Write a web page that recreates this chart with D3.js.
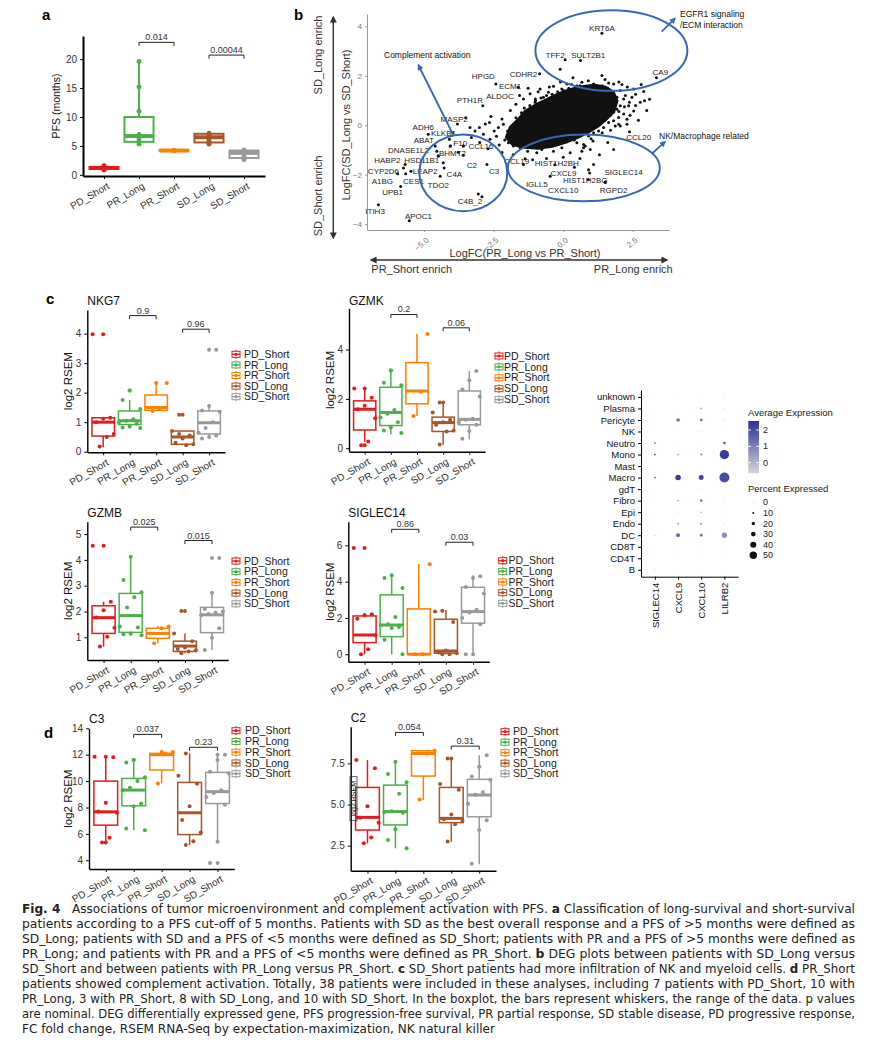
<!DOCTYPE html>
<html>
<head>
<meta charset="utf-8">
<script src="https://cdn.jsdelivr.net/npm/d3@7"></script>
<style>
body { margin: 0; background: #fff; }
svg { display: block; font-family: "Liberation Sans", Arial, sans-serif; }
.cap text { white-space: pre; }
</style>
</head>
<body>
<svg width="874" height="1056"></svg>
<script>
// groepen en kleuren
var groups = ["PD_Short", "PR_Long", "PR_Short", "SD_Long", "SD_Short"];
var groupColors = ["#e41a1c", "#4daf4a", "#ff7f00", "#a65628", "#999999"];

// a: PFS, stats = [min, q1, mediaan, q3, max]
var pfsStats = [[0.8, 1.05, 1.2, 1.35, 1.6], [5.3, 5.7, 6.7, 10.0, 19.6], [4.15, 4.15, 4.2, 4.25, 4.25], [5.3, 5.6, 6.5, 7.1, 7.2], [2.6, 2.9, 3.8, 4.2, 4.3]];
var pfsPoints = [[0.8, 1.0, 1.1, 1.2, 1.2, 1.4, 1.6], [19.6, 15.2, 11.0, 7.0, 6.6, 6.5, 6.2, 5.8, 5.5, 5.3], [4.2, 4.2, 4.2], [7.2, 7.0, 6.8, 6.5, 6.1, 5.8, 5.4, 5.3], [4.3, 4.2, 4.0, 3.9, 3.8, 3.6, 3.2, 3.0, 2.8, 2.6]];
var pfsP = ["0.014", "0.00044"], pfsPY = [22.9, 20.7];

// c: NKG7, GZMK, GZMB, SIGLEC14
var nkg7Stats = [[0.15, 0.53, 1.0, 1.15, 1.15], [0.8, 0.92, 1.05, 1.38, 1.75], [1.38, 1.4, 1.5, 1.92, 2.3], [0.22, 0.25, 0.5, 0.7, 0.7], [0.45, 0.6, 0.98, 1.38, 1.55]];
var nkg7Points = [[3.98, 1.15, 1.12, 1.0, 0.6, 0.5, 0.18], [2.07, 1.75, 1.45, 1.1, 1.05, 1.0, 0.95, 0.85, 0.82, 0.8], [2.33, 1.45, 1.38], [1.25, 0.7, 0.55, 0.45, 0.3, 0.25, 0.22, 0.6], [3.45, 1.55, 1.4, 1.35, 1.0, 0.8, 0.65, 0.55, 0.5, 0.45]];
var nkg7P = ["0.9", "0.96"], nkg7PY = [4.61, 4.15];

var gzmkStats = [[0.27, 0.74, 1.58, 1.92, 2.4], [0.57, 0.92, 1.45, 2.47, 3.13], [1.31, 1.8, 2.32, 3.47, 4.63], [0.14, 0.68, 1.04, 1.26, 1.82], [0.36, 0.95, 1.17, 2.32, 3.13]];
var gzmkPoints = [[2.42, 2.05, 1.72, 1.58, 1.22, 0.27, 0.12], [3.15, 2.65, 2.55, 1.55, 1.4, 1.25, 1.05, 0.85, 0.72, 0.62], [4.63, 2.3, 1.31], [1.85, 1.45, 1.15, 1.05, 0.95, 0.72, 0.68, 0.15], [3.13, 2.75, 2.38, 2.1, 1.2, 1.15, 1.05, 0.95, 0.7, 0.38]];
var gzmkP = ["0.2", "0.06"], gzmkPY = [5.42, 4.88];

var gzmbStats = [[0.64, 1.15, 1.76, 2.22, 2.38], [1.06, 1.19, 1.84, 2.7, 4.12], [0.77, 0.96, 1.15, 1.35, 1.44], [0.38, 0.45, 0.66, 0.85, 1.15], [0.51, 1.18, 1.87, 2.16, 2.73]];
var gzmbPoints = [[4.55, 2.38, 2.05, 1.77, 1.37, 1.02, 0.64], [4.12, 3.22, 2.75, 2.55, 2.15, 1.42, 1.38, 1.15, 1.12, 1.08], [1.42, 1.35, 0.77], [2.02, 1.15, 0.85, 0.6, 0.55, 0.5, 0.45, 0.38], [4.07, 2.73, 2.1, 2.0, 1.95, 1.9, 1.85, 1.35, 0.98, 0.51]];
var gzmbP = ["0.025", "0.015"], gzmbPY = [5.27, 4.75];

var sig14Stats = [[0, 0.64, 1.06, 2.11, 2.26], [0, 0.97, 1.61, 3.27, 4.4], [0, 0, 0, 2.5, 4.97], [0, 0.06, 0.18, 1.93, 2.44], [0, 1.71, 2.35, 3.69, 4.35]];
var sig14Points = [[5.85, 2.2, 2.15, 1.95, 1.05, 0.28, 0], [4.35, 4.2, 3.65, 2.05, 1.65, 1.6, 1.5, 1.45, 0.8, 0], [4.95, 0, 0], [2.4, 2.35, 1.78, 0.2, 0.1, 0.05, 0, 0], [4.3, 4.2, 3.7, 3.35, 2.45, 2.3, 2.0, 1.65, 0, 0]];
var sig14P = ["0.86", "0.03"], sig14PY = [6.88, 6.17];

// d: C3, C2
var c3Stats = [[5.4, 6.66, 7.67, 10.0, 11.8], [6.28, 8.13, 9.32, 10.2, 11.47], [9.82, 10.84, 12.0, 12.1, 12.18], [5.14, 5.95, 7.6, 9.9, 12.1], [5.4, 8.3, 9.2, 10.66, 11.97]];
var c3Points = [[11.85, 11.8, 8.35, 7.7, 7.6, 5.7, 5.35], [11.6, 11.4, 10.3, 10.0, 9.5, 9.3, 8.3, 8.1, 6.4, 6.28], [12.2, 12.1, 9.82], [12.1, 10.4, 9.8, 8.1, 7.05, 6.1, 5.45, 5.15], [12.0, 11.6, 10.7, 10.6, 9.3, 9.1, 8.8, 8.2, 5.4, 3.8]];
var c3P = ["0.037", "0.23"], c3PY = [13.54, 12.56];

var c2Stats = [[2.64, 3.45, 4.22, 6.04, 7.7], [2.34, 3.76, 4.57, 6.18, 7.64], [5.27, 6.73, 8.1, 8.27, 8.27], [2.74, 3.9, 4.16, 6.04, 7.76], [1.37, 4.26, 5.58, 6.53, 8.0]];
var c2Points = [[7.7, 7.2, 4.9, 4.2, 3.9, 3.0, 2.65], [7.6, 6.85, 6.35, 5.65, 4.6, 4.55, 4.5, 3.5, 2.85, 2.35], [8.27, 8.1, 5.3], [7.8, 6.25, 5.9, 4.4, 4.1, 4.0, 3.8, 2.75], [8.0, 7.3, 6.7, 6.5, 5.75, 5.6, 5.05, 4.05, 3.45, 1.4]];
var c2P = ["0.054", "0.31"], c2PY = [9.38, 8.55];

// b: DEG scatter (logFC PR, logFC SD)
var geneNames = ["ITIH3", "APOC1", "UPB1", "A1BG", "CES1", "CYP2D6", "HABP2", "HSD11B1", "LEAP2", "DNASE1L2", "ABAT", "ADH6", "KLKB1", "MASP2", "F10", "BHMT2", "CCL16", "C2", "C4A", "TDO2", "C3", "C4B_2", "CCL19", "PTH1R", "HPGD", "ECM1", "CDHR2", "ALDOC", "TFF2", "SULT2B1", "KRT6A", "CA9", "CCL20", "SIGLEC14", "HIST1H2BG", "RGPD2", "CXCL10", "CXCL9", "HIST1H2BH", "IGLL5"];
var geneX = [-6.64, -5.53, -5.84, -5.95, -5.66, -5.74, -5.68, -4.49, -5.47, -4.54, -4.6, -4.85, -4.09, -3.97, -4.06, -4.31, -3.59, -3.59, -4.28, -4.42, -2.74, -3.05, -1.43, -2.89, -2.42, -1.62, -0.85, -1.57, 0.07, 0.62, 1.39, 3.35, 2.38, 0.91, 1.51, 1.51, 0.9, 0.95, -1.37, -0.47];
var geneY = [-3.22, -3.87, -2.48, -1.96, -1.96, -1.73, -1.59, -1.25, -1.86, -1.05, -0.84, -0.37, -0.57, -0.3, -0.84, -1.52, -0.84, -1.22, -1.73, -2.07, -1.59, -2.78, -1.59, 0.79, 1.67, 1.54, 2.08, 1.2, 2.65, 2.62, 3.72, 1.92, -0.26, -1.8, -2.31, -2.31, -2.2, -1.93, -1.36, -2.07];
var labelX = [-6.76, -5.2, -6.13, -6.5, -5.38, -6.46, -6.32, -5.08, -4.96, -5.56, -5.01, -5.03, -4.3, -3.92, -3.7, -3.98, -2.96, -3.28, -3.91, -4.49, -2.48, -3.35, -1.67, -3.35, -2.87, -1.91, -1.43, -2.27, -0.29, 0.9, 1.39, 3.49, 2.71, 2.17, 0.79, 1.81, 0.0, 0.01, -0.23, -0.95];
var labelY = [-3.46, -3.67, -2.72, -2.27, -2.27, -1.86, -1.42, -1.42, -1.86, -1.01, -0.6, -0.09, -0.34, 0.24, -0.74, -1.14, -0.84, -1.62, -2.0, -2.41, -1.86, -3.06, -1.46, 1.02, 1.99, 1.58, 2.08, 1.17, 2.83, 2.83, 3.92, 2.15, -0.5, -1.89, -2.24, -2.64, -2.61, -1.96, -1.52, -2.37];
var bCloud = [[-4.49, -1.25], [-4.06, -0.84], [-3.77, -1.09], [-3.59, -0.84], [-2.92, -2.89], [-1.26, 1.5], [-1.0, 1.06], [-0.11, 2.26], [0.35, 1.92], [1.39, 2.01], [1.81, 1.67], [2.11, 1.65], [1.63, 1.71], [2.29, 0.04], [1.99, 0.04], [1.87, -0.03], [2.77, 0.93], [2.92, 0.99], [2.89, 1.36], [2.47, 1.13], [2.53, 1.47], [1.81, -0.98], [1.09, -1.59], [1.07, -0.64], [0.73, -0.78], [0.79, -0.84], [0.67, -1.05], [2.05, 0.79], [1.93, 0.65], [2.17, 1.06], [2.38, 0.93],
  [-3.35, -0.09], [-3.17, -0.23], [-3.01, -0.09], [-2.87, -0.37], [-2.65, 0.11], [-2.63, -0.57], [-2.48, -0.23], [-2.33, -0.09], [-2.15, 0.04], [-2.0, -0.23], [-1.91, -0.44], [-1.97, -0.71], [-1.79, -0.84], [-1.67, -0.57], [-1.55, -0.91], [-1.43, -0.71], [-1.28, -1.05], [-1.13, -0.84], [-0.95, -1.11], [-0.77, -0.98], [-0.59, -0.84], [-0.35, -1.05], [-0.05, -0.91], [0.25, -1.11], [0.49, -0.71], [0.73, -0.91], [0.97, -0.98],
  [-1.43, 1.06], [-1.19, 1.27], [-1.01, 0.93], [-0.83, 1.47], [-0.71, 1.13], [-0.53, 1.33], [-0.35, 1.58], [-0.23, 1.2], [-0.05, 1.47], [0.13, 1.67], [0.31, 1.4], [0.49, 1.6], [0.67, 1.74], [0.85, 1.54],
  [1.09, 1.67], [1.27, 1.4], [1.45, 1.54], [1.69, 1.27], [1.93, 1.13], [2.05, 1.4], [2.23, 1.2], [2.35, 0.79], [2.53, 0.58], [2.17, 0.45], [1.99, 0.31], [1.81, 0.18], [1.63, 0.11], [1.45, -0.09], [1.27, -0.23], [1.09, -0.3], [0.91, -0.44], [1.81, 0.52], [2.29, 0.24], [2.05, -0.03],
  [-1.8, 0.0], [-1.7, 0.3], [-1.6, -0.3], [-1.5, 0.5], [-1.5, -0.1], [-1.4, 0.7], [-1.3, -0.5], [-1.2, 0.8], [-1.1, -0.55], [-1.0, 1.0], [-0.9, -0.6], [-0.8, 1.1], [-0.7, -0.5], [-0.6, 1.2], [-0.5, -0.6], [-0.4, 1.25], [-0.3, -0.5], [-0.2, 1.35], [-0.1, -0.45], [0.0, 1.4], [0.1, -0.5], [0.2, 1.5], [0.3, -0.35], [0.4, 1.45], [0.5, -0.4], [0.6, 1.6], [0.7, -0.2], [0.8, 1.5], [0.9, -0.25], [1.0, 1.6], [1.1, -0.1], [1.2, 1.55], [1.3, 0.05], [1.4, 1.6], [1.5, 0.2], [1.6, 1.5], [1.7, 0.4], [1.8, 1.3], [1.85, 0.8], [1.9, 1.0],
  [-2.2, 0.25], [-2.4, -0.45], [-2.6, 0.35], [-2.8, 0.05], [-2.1, -0.6], [-1.9, 0.6], [-1.7, 0.85], [-2.3, -0.8], [-1.4, -0.8], [-0.8, -0.85], [-0.2, -0.75], [0.4, -0.6], [1.0, -0.55], [1.4, -0.3], [1.7, -0.2], [2.0, 0.55], [2.2, 0.75], [2.4, 0.4], [2.6, 0.8], [-0.9, 1.35], [-0.5, 1.55], [-0.1, 1.75], [0.3, 1.65], [0.9, 1.8], [1.5, 1.85], [2.0, 1.75], [2.3, 1.55], [2.6, 1.25], [2.8, 1.65], [3.1, 1.05], [3.0, 0.6], [2.7, 0.2],
  [-3.5, 0.3], [-3.8, 0.05], [-3.3, -0.5], [-3.0, -0.7], [-2.7, -0.95], [-2.2, -1.1], [-1.8, -1.2], [-1.1, -1.4], [-0.6, -1.35], [0.0, -1.3], [0.6, -1.35], [1.3, -1.2], [1.6, -0.7], [-0.3, -1.6], [0.4, -1.7]];
var bCore = [[-2.05, -0.49], [-1.91, -0.08], [-1.62, 0.24], [-1.37, 0.57], [-1.01, 0.82], [-0.65, 1.02], [-0.29, 1.22], [0.07, 1.39], [0.43, 1.51], [0.79, 1.59], [1.15, 1.63], [1.51, 1.55], [1.8, 1.35], [1.94, 0.98], [1.83, 0.57], [1.55, 0.24], [1.26, -0.04], [0.9, -0.29], [0.54, -0.49], [0.11, -0.69], [-0.4, -0.86], [-0.9, -0.94], [-1.4, -0.9], [-1.83, -0.78]];

// c: dotplot
var cellTypes = ["unknown", "Plasma", "Pericyte", "NK", "Neutro", "Mono", "Mast", "Macro", "gdT", "Fibro", "Epi", "Endo", "DC", "CD8T", "CD4T", "B"];
var dotGenes = ["SIGLEC14", "CXCL9", "CXCL10", "LILRB2"];
var dotExp = [
  [-0.4, -0.4, -0.4, -0.4, 2.0, 2.0, -0.4, 1.8, -0.4, -0.4, -0.4, -0.4, 0.2, -0.4, -0.4, 0.0],
  [-0.5, -0.5, 1.3, -0.5, -0.5, 0.8, -0.5, 2.3, -0.5, 0.5, -0.3, 0.8, 1.5, -0.5, -0.5, -0.5],
  [-0.4, 0.6, 1.2, -0.4, -0.4, 0.8, -0.4, 2.2, -0.4, 1.1, 0.4, 0.8, 1.2, -0.4, -0.4, -0.4],
  [-0.4, -0.4, -0.4, -0.4, 1.8, 2.3, -0.4, 2.0, -0.4, -0.4, -0.4, -0.4, 0.7, -0.4, -0.4, -0.4]];
var dotPct = [
  [2, 2, 2, 2, 8, 9, 2, 8, 2, 2, 2, 2, 3, 2, 2, 3],
  [2, 2, 22, 2, 2, 8, 2, 36, 2, 8, 3, 9, 23, 2, 2, 2],
  [3, 8, 16, 3, 3, 11, 2, 32, 3, 15, 7, 10, 17, 2, 3, 2],
  [3, 3, 3, 2, 15, 64, 3, 69, 2, 3, 2, 3, 35, 2, 2, 2]];
var pctBreaks = [0, 10, 20, 30, 40, 50];
var expBreaks = [0, 1, 2];

var captionLines = [
  "**Fig. 4**   Associations of tumor microenvironment and complement activation with PFS. **a** Classification of long-survival and short-survival",
  "patients according to a PFS cut-off of 5 months. Patients with SD as the best overall response and a PFS of >5 months were defined as",
  "SD_Long; patients with SD and a PFS of <5 months were defined as SD_Short; patients with PR and a PFS of >5 months were defined as",
  "PR_Long; and patients with PR and a PFS of <5 months were defined as PR_Short. **b** DEG plots between patients with SD_Long versus",
  "SD_Short and between patients with PR_Long versus PR_Short. **c** SD_Short patients had more infiltration of NK and myeloid cells. **d** PR_Short",
  "patients showed complement activation. Totally, 38 patients were included in these analyses, including 7 patients with PD_Short, 10 with",
  "PR_Long, 3 with PR_Short, 8 with SD_Long, and 10 with SD_Short. In the boxplot, the bars represent whiskers, the range of the data. p values",
  "are nominal. DEG differentially expressed gene, PFS progression-free survival, PR partial response, SD stable disease, PD progressive response,",
  "FC fold change, RSEM RNA-Seq by expectation-maximization, NK natural killer"];

var svg = d3.select("svg");
svg.append("rect").attr("width", 874).attr("height", 1056).attr("fill", "#fff");

var defs = svg.append("defs");
function marker(id, col, size) {
  defs.append("marker").attr("id", id).attr("viewBox", "0 0 10 10").attr("refX", 8).attr("refY", 5)
    .attr("markerWidth", size).attr("markerHeight", size).attr("orient", "auto-start-reverse")
    .append("path").attr("d", "M0,0L10,5L0,10z").attr("fill", col);
}
marker("arrK", "#333", 5);
marker("arrB", "#3a66b5", 3.5);

function styleAxis(a, w, col, fs) {
  a.attr("font-family", null).attr("font-size", null);
  a.select(".domain").attr("stroke", col).attr("stroke-width", w);
  a.selectAll(".tick line").attr("stroke", col);
  a.selectAll(".tick text").attr("fill", "#333").style("font-size", fs + "px");
}

// boxplot paneel
function boxPanel(o) {
  var g = svg.append("g");
  var x = d3.scalePoint().domain(groups).range([o.left, o.right]).padding(0.6);
  var y = d3.scaleLinear().domain(o.domain).range([o.bottom, o.top]);
  var step = x.step(), bw = step * (o.boxFrac || 0.85);
  var lw = o.lw || 1.5;

  var xa = g.append("g").attr("transform", "translate(0," + o.bottom + ")")
    .call(d3.axisBottom(x).tickSize(3).tickSizeOuter(0));
  styleAxis(xa, o.axisW || 1.4, "#000", 10);
  xa.selectAll(".tick text").attr("x", 0).attr("y", 0).attr("dy", "0.35em")
    .attr("transform", "translate(4,9) rotate(-30)").style("text-anchor", "end");
  var ya = g.append("g").attr("transform", "translate(" + o.left + ",0)")
    .call(d3.axisLeft(y).tickValues(o.ticks).tickSize(3).tickSizeOuter(0).tickFormat(o.fmt || d3.format("d")));
  styleAxis(ya, o.axisW || 1.4, "#000", 10);

  var bxs = g.selectAll(".box").data(o.stats).enter().append("g")
    .attr("transform", function(d, i) { return "translate(" + x(groups[i]) + ",0)"; })
    .attr("stroke", function(d, i) { return groupColors[i]; })
    .attr("stroke-width", lw).attr("fill", "none");
  bxs.append("line").attr("y1", function(d) { return y(d[0]); }).attr("y2", function(d) { return y(d[1]); });
  bxs.append("line").attr("y1", function(d) { return y(d[3]); }).attr("y2", function(d) { return y(d[4]); });
  bxs.append("rect").attr("x", -bw / 2).attr("width", bw)
    .attr("y", function(d) { return y(d[3]); })
    .attr("height", function(d) { return Math.max(0.5, y(d[1]) - y(d[3])); })
    .attr("fill", "#fff");
  bxs.append("line").attr("x1", -bw / 2).attr("x2", bw / 2).attr("stroke-width", lw * 2)
    .attr("y1", function(d) { return y(d[2]); }).attr("y2", function(d) { return y(d[2]); });

  var pts = [];
  o.points.forEach(function(arr, i) {
    arr.forEach(function(v, j) {
      var s = o.stats[i];
      var jx = o.jitter ? (((j * 5 + i * 3) % 7) / 6 - 0.5) * 0.8 * step : 0;
      pts.push({ g: i, v: v, dx: jx });
      if (o.jitter && (v > s[4] + 1e-6 || v < s[0] - 1e-6)) pts.push({ g: i, v: v, dx: 0 });
    });
  });
  g.selectAll(".pt").data(pts).enter().append("circle")
    .attr("cx", function(d) { return x(groups[d.g]) + d.dx; })
    .attr("cy", function(d) { return y(d.v); })
    .attr("r", o.r || 2)
    .attr("fill", function(d) { return groupColors[d.g]; });

  // p-waarde haken
  o.pY.forEach(function(py, k) {
    var a = x(groups[1 + 2 * k]), b = x(groups[2 + 2 * k]), yy = y(py);
    g.append("path").attr("d", "M" + a + "," + (yy + 3.5) + "V" + yy + "H" + b + "V" + (yy + 3.5))
      .attr("fill", "none").attr("stroke", "#222").attr("stroke-width", 1);
    g.append("text").attr("x", (a + b) / 2).attr("y", yy - 2).attr("text-anchor", "middle")
      .attr("font-size", 9).attr("fill", "#333").text(o.pvals[k]);
  });

  if (o.title) g.append("text").attr("x", o.left).attr("y", o.titleY).attr("font-size", 12).attr("fill", "#111").text(o.title);

  var cy = (o.top + o.bottom) / 2;
  if (o.ylabBox) {
    g.append("rect").attr("x", o.ylabX - 4).attr("y", cy - 22).attr("width", 7).attr("height", 44)
      .attr("fill", "none").attr("stroke", "#333").attr("stroke-width", 0.8);
    g.append("text").attr("transform", "translate(" + (o.ylabX + 2) + "," + cy + ") rotate(-90)")
      .attr("text-anchor", "middle").attr("font-size", 7).attr("fill", "#222").text("log2 RSEM");
  } else {
    g.append("text").attr("transform", "translate(" + o.ylabX + "," + cy + ") rotate(-90)")
      .attr("text-anchor", "middle").attr("font-size", o.ylabSize || 11.5).attr("fill", "#111").text(o.ylab || "log2 RSEM");
  }

  if (o.legend) {
    var L = o.legend;
    groups.forEach(function(name, i) {
      var ky = L.y + i * L.sp, c = groupColors[i];
      var k = g.append("g").attr("transform", "translate(" + L.x + "," + ky + ")");
      k.append("line").attr("y1", -4.5).attr("y2", 4.5).attr("stroke", c).attr("stroke-width", 1);
      k.append("rect").attr("x", -4).attr("y", -3).attr("width", 8).attr("height", 6)
        .attr("fill", "#fff").attr("stroke", c).attr("stroke-width", 1);
      k.append("line").attr("x1", -4).attr("x2", 4).attr("stroke", c).attr("stroke-width", 1.3);
      k.append("circle").attr("r", 1.6).attr("fill", c);
      g.append("text").attr("x", L.tx).attr("y", ky).attr("dy", "0.35em")
        .attr("font-size", 10.5).attr("fill", "#222").text(name);
    });
  }
}

// panel letters
[["a", 42, 20], ["b", 294, 20], ["c", 46, 304], ["d", 44, 738]].forEach(function(l) {
  svg.append("text").attr("x", l[1]).attr("y", l[2]).attr("font-size", 15).attr("font-weight", "bold").text(l[0]);
});

// a
boxPanel({ left: 83, right: 265, top: 36, bottom: 176, domain: [-0.2, 24], ticks: [0, 5, 10, 15, 20],
  stats: pfsStats, points: pfsPoints, pvals: pfsP, pY: pfsPY, jitter: false, boxFrac: 0.83, lw: 2, r: 2.4,
  axisW: 2, ylab: "PFS (months)", ylabX: 60, ylabSize: 10.5 });

// c
boxPanel({ left: 87.3, right: 225, top: 310, bottom: 452.3, domain: [-0.02, 4.8], ticks: [0, 1, 2, 3, 4],
  stats: nkg7Stats, points: nkg7Points, pvals: nkg7P, pY: nkg7PY, jitter: true, title: "NKG7", titleY: 305,
  ylabX: 72, legend: { x: 236, tx: 244, y: 354.3, sp: 10.6 } });
boxPanel({ left: 349, right: 485, top: 308.3, bottom: 451.7, domain: [-0.14, 5.67], ticks: [0, 2, 4],
  stats: gzmkStats, points: gzmkPoints, pvals: gzmkP, pY: gzmkPY, jitter: true, title: "GZMK", titleY: 305,
  ylabX: 334, legend: { x: 499, tx: 504, y: 356, sp: 10.9 } });
boxPanel({ left: 87.3, right: 228.3, top: 521.7, bottom: 660, domain: [0.12, 5.48], ticks: [1, 2, 3, 4, 5],
  stats: gzmbStats, points: gzmbPoints, pvals: gzmbP, pY: gzmbPY, jitter: true, title: "GZMB", titleY: 517,
  ylabX: 72, legend: { x: 236, tx: 244, y: 561, sp: 10.7 } });
boxPanel({ left: 348.3, right: 489.3, top: 521.7, bottom: 661.7, domain: [-0.41, 7.3], ticks: [0, 2, 4, 6],
  stats: sig14Stats, points: sig14Points, pvals: sig14P, pY: sig14PY, jitter: true, title: "SIGLEC14", titleY: 517,
  ylabX: 334, legend: { x: 502.7, tx: 508.5, y: 560.7, sp: 10.65 } });

// d
boxPanel({ left: 89, right: 234.3, top: 728.3, bottom: 869, domain: [3.34, 14.0], ticks: [4, 6, 8, 10, 12, 14],
  stats: c3Stats, points: c3Points, pvals: c3P, pY: c3PY, jitter: true, title: "C3", titleY: 723,
  ylabX: 72, legend: { x: 236, tx: 245, y: 730.7, sp: 10.75 } });
boxPanel({ left: 350.7, right: 496, top: 726.7, bottom: 870.7, domain: [0.98, 9.73], ticks: [2.5, 5.0, 7.5],
  fmt: d3.format(".1f"), stats: c2Stats, points: c2Points, pvals: c2P, pY: c2PY, jitter: true, title: "C2", titleY: 722,
  ylabX: 354, ylabBox: true, legend: { x: 505, tx: 513, y: 731.7, sp: 10.5 } });

// b: scatter
var bxS = d3.scaleLinear().domain([-7.05, 3.8]).range([367, 669]);
var byS = d3.scaleLinear().domain([-4.24, 4.5]).range([230, 14]);
var gb = svg.append("g");
var bxa = gb.append("g").attr("transform", "translate(0,230)")
  .call(d3.axisBottom(bxS).tickValues([-5, -2.5, 0, 2.5]).tickFormat(d3.format(".1f")).tickSize(2).tickSizeOuter(0));
styleAxis(bxa, 1, "#999", 8);
bxa.selectAll(".tick text").attr("x", 0).attr("y", 0).attr("dy", "0.35em").attr("fill", "#777")
  .attr("transform", "translate(3,9) rotate(-40)").style("text-anchor", "end");
var bya = gb.append("g").attr("transform", "translate(367,0)")
  .call(d3.axisLeft(byS).tickValues([-4, -2, 0, 2, 4]).tickSize(2).tickSizeOuter(0));
styleAxis(bya, 1, "#999", 8);
bya.selectAll(".tick text").attr("fill", "#777");

var coreLine = d3.line().x(function(d) { return bxS(d[0]); }).y(function(d) { return byS(d[1]); }).curve(d3.curveLinearClosed);
gb.append("path").attr("d", coreLine(bCore)).attr("fill", "#111").attr("stroke", "#111").attr("stroke-width", 2.5).attr("stroke-linejoin", "round");
gb.selectAll(".cl").data(bCloud).enter().append("circle")
  .attr("cx", function(d) { return bxS(d[0]); }).attr("cy", function(d) { return byS(d[1]); })
  .attr("r", 1.5).attr("fill", "#111");
gb.selectAll(".gp").data(geneNames).enter().append("circle")
  .attr("cx", function(d, i) { return bxS(geneX[i]); }).attr("cy", function(d, i) { return byS(geneY[i]); })
  .attr("r", 1.5).attr("fill", "#111");
gb.selectAll(".gl").data(geneNames).enter().append("text")
  .attr("x", function(d, i) { return bxS(labelX[i]); }).attr("y", function(d, i) { return byS(labelY[i]); })
  .attr("dy", "0.35em").attr("text-anchor", "middle").attr("font-size", 8).attr("fill", "#222").text(function(d) { return d; });

// ellipsen en pijlen
var ellipses = [[-3.59, -1.93, 1.58, 1.55], [1.73, 3.02, 2.73, 1.63], [0.74, -1.73, 2.73, 1.35]];
ellipses.forEach(function(e) {
  gb.append("ellipse").attr("cx", bxS(e[0])).attr("cy", byS(e[1]))
    .attr("rx", bxS(e[0] + e[2]) - bxS(e[0])).attr("ry", byS(e[1] - e[3]) - byS(e[1]))
    .attr("fill", "none").attr("stroke", "#3a66b5").attr("stroke-width", 2);
});
[[453.3, 135, 418.3, 65], [661.7, 31.7, 675, 18.3], [651.7, 154, 665, 141.7]].forEach(function(a) {
  gb.append("line").attr("x1", a[0]).attr("y1", a[1]).attr("x2", a[2]).attr("y2", a[3])
    .attr("stroke", "#3a66b5").attr("stroke-width", 1.8).attr("marker-end", "url(#arrB)");
});
gb.append("text").attr("x", 384).attr("y", 55).attr("dy", "0.35em").attr("font-size", 8.5).attr("fill", "#111").text("Complement activation");
gb.append("text").attr("x", 680).attr("y", 14).attr("dy", "0.35em").attr("font-size", 8.5).attr("fill", "#111").text("EGFR1 signaling");
gb.append("text").attr("x", 680).attr("y", 25).attr("dy", "0.35em").attr("font-size", 8.5).attr("fill", "#111").text("/ECM interaction");
gb.append("text").attr("x", 659).attr("y", 135.7).attr("dy", "0.35em").attr("font-size", 8.5).attr("fill", "#111").text("NK/Macrophage related");

// assen titels en richtingspijlen
gb.append("text").attr("transform", "translate(350,125) rotate(-90)").attr("text-anchor", "middle").attr("font-size", 11).attr("fill", "#333").text("LogFC(SD_Long vs SD_Short)");
gb.append("text").attr("x", 525).attr("y", 253).attr("dy", "0.35em").attr("text-anchor", "middle").attr("font-size", 11).attr("fill", "#333").text("LogFC(PR_Long vs PR_Short)");
gb.append("line").attr("x1", 333.3).attr("y1", 17).attr("x2", 333.3).attr("y2", 238).attr("stroke", "#333").attr("stroke-width", 1.4)
  .attr("marker-start", "url(#arrK)").attr("marker-end", "url(#arrK)");
gb.append("line").attr("x1", 371).attr("y1", 260).attr("x2", 667).attr("y2", 260).attr("stroke", "#333").attr("stroke-width", 1.4)
  .attr("marker-start", "url(#arrK)").attr("marker-end", "url(#arrK)");
gb.append("text").attr("transform", "translate(322,55) rotate(-90)").attr("text-anchor", "middle").attr("font-size", 11).attr("fill", "#333").text("SD_Long enrich");
gb.append("text").attr("transform", "translate(322,196) rotate(-90)").attr("text-anchor", "middle").attr("font-size", 11).attr("fill", "#333").text("SD_Short enrich");
gb.append("text").attr("x", 411.7).attr("y", 269.5).attr("dy", "0.35em").attr("text-anchor", "middle").attr("font-size", 11).attr("fill", "#333").text("PR_Short enrich");
gb.append("text").attr("x", 633.3).attr("y", 269.5).attr("dy", "0.35em").attr("text-anchor", "middle").attr("font-size", 11).attr("fill", "#333").text("PR_Long enrich");

// dotplot
var dx = d3.scalePoint().domain(dotGenes).range([641, 738.3]).padding(0.6);
var dy = d3.scalePoint().domain(cellTypes).range([390, 576.7]).padding(0.6);
var rS = d3.scaleLinear().domain([0, 50]).range([0.3, 3.7]);
var cS = d3.scaleLinear().domain([-0.65, 2.55]).range(["#d6d6d6", "#2b2f99"]);
var gd = svg.append("g");
var dxa = gd.append("g").attr("transform", "translate(0,576.7)").call(d3.axisBottom(dx).tickSize(3).tickSizeOuter(0));
styleAxis(dxa, 1, "#000", 9.5);
dxa.selectAll(".tick text").attr("x", 0).attr("y", 0).attr("dy", "0.35em").attr("fill", "#111")
  .attr("transform", "translate(0,6) rotate(-90)").style("text-anchor", "end");
var dya = gd.append("g").attr("transform", "translate(641,0)").call(d3.axisLeft(dy).tickSize(3).tickSizeOuter(0));
styleAxis(dya, 1, "#000", 9.5);
dya.selectAll(".tick text").attr("fill", "#111");
var dots = [];
dotGenes.forEach(function(gn, gi) {
  cellTypes.forEach(function(ct, ci) { dots.push({ g: gn, c: ct, e: dotExp[gi][ci], p: dotPct[gi][ci] }); });
});
gd.selectAll(".dot").data(dots).enter().append("circle")
  .attr("cx", function(d) { return dx(d.g); }).attr("cy", function(d) { return dy(d.c); })
  .attr("r", function(d) { return rS(d.p); }).attr("fill", function(d) { return cS(d.e); });

// legendes dotplot
gd.append("text").attr("x", 748).attr("y", 412.3).attr("dy", "0.35em").attr("font-size", 9.5).attr("fill", "#222").text("Average Expression");
var grad = defs.append("linearGradient").attr("id", "cbar").attr("x1", 0).attr("x2", 0).attr("y1", 1).attr("y2", 0);
d3.range(0, 1.01, 0.1).forEach(function(t) {
  grad.append("stop").attr("offset", t).attr("stop-color", cS(-0.65 + t * 3.2));
});
var cbY = d3.scaleLinear().domain([-0.65, 2.55]).range([473.3, 421]);
gd.append("rect").attr("x", 748.3).attr("y", 421).attr("width", 10.7).attr("height", 52.3).attr("fill", "url(#cbar)");
expBreaks.forEach(function(v) {
  gd.append("line").attr("x1", 748.3).attr("x2", 751).attr("y1", cbY(v)).attr("y2", cbY(v)).attr("stroke", "#fff");
  gd.append("line").attr("x1", 756.3).attr("x2", 759).attr("y1", cbY(v)).attr("y2", cbY(v)).attr("stroke", "#fff");
  gd.append("text").attr("x", 763).attr("y", cbY(v)).attr("dy", "0.35em").attr("font-size", 9).attr("fill", "#222").text(v);
});
gd.append("text").attr("x", 748).attr("y", 488.3).attr("dy", "0.35em").attr("font-size", 9.5).attr("fill", "#222").text("Percent Expressed");
pctBreaks.forEach(function(v, i) {
  var yy = 502.3 + i * 10.6;
  gd.append("circle").attr("cx", 753.3).attr("cy", yy).attr("r", rS(v)).attr("fill", "#111");
  gd.append("text").attr("x", 763).attr("y", yy).attr("dy", "0.35em").attr("font-size", 9).attr("fill", "#222").text(v);
});

// bijschrift
var cap = svg.append("g").attr("class", "cap").attr("font-family", "'Liberation Sans Narrow','DejaVu Sans Condensed',sans-serif").attr("font-size", 12).attr("fill", "#222");
captionLines.forEach(function(line, i) {
  var t = cap.append("text").attr("x", 22).attr("y", 913 + i * 15)
    .attr("textLength", i < captionLines.length - 1 ? 833 : 473).attr("lengthAdjust", "spacingAndGlyphs");
  line.split("**").forEach(function(part, k) {
    if (part.length) t.append("tspan").attr("font-weight", k % 2 ? "bold" : null).text(part);
  });
});
</script>
</body>
</html>
